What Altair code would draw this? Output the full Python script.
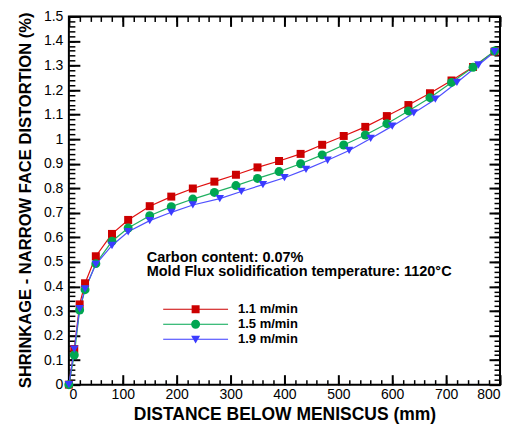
import altair as alt
import pandas as pd

# ---- data ----
x_rg = [0, 10, 20, 30, 50, 80, 110, 150, 190, 230, 270, 310, 350, 390, 430, 470,
        510, 550, 590, 630, 670, 710, 750, 790]
red = [0, 0.145, 0.327, 0.413, 0.523, 0.614, 0.671, 0.727, 0.766, 0.799, 0.827, 0.855,
       0.885, 0.911, 0.94, 0.977, 1.013, 1.05, 1.094, 1.139, 1.187, 1.239, 1.294, 1.357]
green = [0, 0.121, 0.304, 0.387, 0.493, 0.584, 0.638, 0.688, 0.725, 0.756, 0.783, 0.811,
         0.840, 0.868, 0.90, 0.936, 0.976, 1.017, 1.063, 1.115, 1.169, 1.231, 1.293, 1.359]
x_blue = [0, 10, 20, 30, 50, 80, 110, 150, 190, 230, 280, 320, 360, 400, 440, 480,
          520, 560, 600, 640, 680, 720, 760, 790]
blue = [0, 0.145, 0.31, 0.39, 0.49, 0.567, 0.623, 0.668, 0.702, 0.732, 0.758, 0.787,
        0.815, 0.843, 0.877, 0.914, 0.954, 1.003, 1.053, 1.107, 1.163, 1.231, 1.302, 1.356]

series_names = ["1.1 m/min", "1.5 m/min", "1.9 m/min"]
colors = ["#cc0000", "#00a651", "#3b3bff"]
line_colors = ["#e01010", "#20b060", "#5050ff"]
shapes = ["square", "circle", "triangle-down"]
marker_sizes = [64, 81, 72]

x_major = list(range(0, 801, 100))
x_minor = list(range(0, 801, 20))
y_major = [round(i * 0.1, 1) for i in range(16)]
y_minor = [round(i * 0.02, 2) for i in range(76)]

annotation_lines = ["Carbon content: 0.07%",
                    "Mold Flux solidification temperature: 1120\u00b0C"]
x_title = "DISTANCE BELOW MENISCUS (mm)"
y_title = "SHRINKAGE - NARROW FACE DISTORTION (%)"

# legend symbols: a line segment with the marker in its middle (unit = 5 px)
legend_paths = [
    "M-6.5,-0.1H6.5V0.1H-6.5Z M-0.8,-0.8H0.8V0.8H-0.8Z",
    "M-6.5,-0.1H6.5V0.1H-6.5Z M0.9,0A0.9,0.9,0,1,1,-0.9,0A0.9,0.9,0,1,1,0.9,0Z",
    "M-6.5,-0.1H6.5V0.1H-6.5Z M-0.9,-0.7L0.9,-0.7L0,0.85Z",
]

frames = []
for name, xv, yv in zip(series_names, [x_rg, x_rg, x_blue], [red, green, blue]):
    frames.append(pd.DataFrame({"distance": xv, "shrinkage": yv, "series": name}))
df = pd.concat(frames, ignore_index=True)

W, H = 432, 369
FONT = "Liberation Sans"
xs = alt.Scale(domain=[0, 800], nice=False, zero=False)
ys = alt.Scale(domain=[0, 1.5], nice=False)

label_x = alt.Axis(orient="bottom", values=x_major, format="d", ticks=False, tickSize=0,
                   domain=False, grid=False, labelFont=FONT, labelFontSize=14,
                   labelColor="black", labelPadding=3, title=x_title, titleFont=FONT,
                   titleFontSize=17.5, titleFontWeight="bold", titleColor="black",
                   titleX=W / 2, titleY=35, titleAlign="center", titleBaseline="alphabetic")
label_y = alt.Axis(orient="left", values=y_major, format="~g", ticks=False, tickSize=0,
                   domain=False, grid=False, labelFont=FONT, labelFontSize=14,
                   labelColor="black", labelPadding=6, title=y_title, titleFont=FONT,
                   titleFontSize=16.6, titleFontWeight="bold", titleColor="black",
                   titleAngle=270, titleAlign="left", titleBaseline="alphabetic",
                   titleX=-38, titleY=372)


def tick_axis(orient, values, size, width, offset):
    return alt.Axis(orient=orient, values=values, tickSize=size, tickWidth=width,
                    tickColor="black", labels=False, domain=False, grid=False,
                    title=None, offset=offset)


axis_sets = [
    (label_x, label_y),
    (tick_axis("top", x_major, 10, 2, -H), tick_axis("right", y_major, 11, 2, -W)),
    (tick_axis("top", x_minor, 5, 1.5, -H), tick_axis("right", y_minor, 6, 1.5, -W)),
    (tick_axis("bottom", x_major, 10, 2, -H), tick_axis("left", y_major, 11, 2, -W)),
    (tick_axis("bottom", x_minor, 5, 1.5, -H), tick_axis("left", y_minor, 6, 1.5, -W)),
    (None, None),
]

layers = []
k = 0
for name, lc in zip(series_names, line_colors):
    ax, ay = axis_sets[k]; k += 1
    layers.append(
        alt.Chart(df).transform_filter(alt.datum.series == name)
        .mark_line(color=lc, strokeWidth=1.2)
        .encode(x=alt.X("distance:Q", scale=xs, axis=ax),
                y=alt.Y("shrinkage:Q", scale=ys, axis=ay))
    )
for name, c, shp, sz in zip(series_names, colors, shapes, marker_sizes):
    ax, ay = axis_sets[k] if k < len(axis_sets) else (None, None); k += 1
    layers.append(
        alt.Chart(df).transform_filter(alt.datum.series == name)
        .mark_point(filled=True, shape=shp, size=sz, color=c, opacity=1)
        .encode(x=alt.X("distance:Q", scale=xs, axis=ax),
                y=alt.Y("shrinkage:Q", scale=ys, axis=ay))
    )

legend = alt.Legend(orient="none", legendX=120.5, legendY=287, title=None,
                    labelFont=FONT, labelFontSize=13, labelFontWeight="bold",
                    labelColor="black", labelOffset=36, symbolSize=100,
                    symbolStrokeWidth=0, symbolOpacity=1, rowPadding=1, padding=0)
layers.append(
    alt.Chart(df).transform_filter("datum.distance < 0")
    .mark_point(filled=True, opacity=1)
    .encode(x=alt.X("distance:Q", scale=xs, axis=None),
            y=alt.Y("shrinkage:Q", scale=ys, axis=None),
            color=alt.Color("series:N", scale=alt.Scale(domain=series_names, range=colors),
                            legend=legend),
            shape=alt.Shape("series:N", scale=alt.Scale(domain=series_names, range=legend_paths),
                            legend=legend))
)

for i, line in enumerate(annotation_lines):
    layers.append(
        alt.Chart(pd.DataFrame({"t": [line]}))
        .mark_text(align="left", baseline="alphabetic", font=FONT, fontSize=14.5,
                   fontWeight="bold", color="black")
        .encode(x=alt.value(78), y=alt.value(246 + 14.5 * i), text="t:N")
    )

chart = (
    alt.layer(*layers)
    .resolve_axis(x="independent", y="independent")
    .properties(width=W, height=H, background="white",
                autosize=alt.AutoSizeParams(type="none"),
                padding={"left": 61, "top": 8, "right": 5, "bottom": 40})
    .configure_view(stroke="black", strokeWidth=2)
)

chart.save("out.html", embed_options={"renderer": "svg", "actions": False})
